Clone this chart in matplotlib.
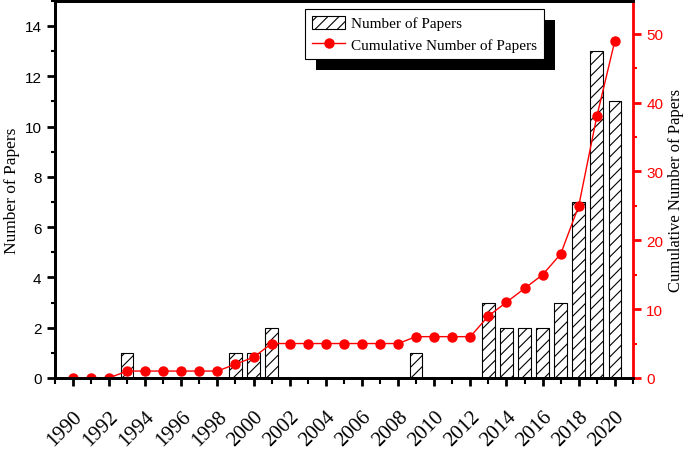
import numpy as np
import matplotlib
matplotlib.use("Agg")
import matplotlib.pyplot as plt
from matplotlib.patches import Rectangle
from matplotlib.transforms import IdentityTransform
from matplotlib.ticker import MultipleLocator

# data
years = list(range(1990, 2021))
papers = [0, 0, 0, 1, 0, 0, 0, 0, 0, 1, 1, 2, 0, 0, 0, 0, 0, 0, 0, 1,
          0, 0, 0, 3, 2, 2, 2, 3, 7, 13, 11]
cumulative = [0, 0, 0, 1, 1, 1, 1, 1, 1, 2, 3, 5, 5, 5, 5, 5, 5, 5, 5, 6,
              6, 6, 6, 9, 11, 13, 15, 18, 25, 38, 49]
xtick_labels = [str(y) for y in range(1990, 2021, 2)]

serif = "Liberation Serif"
sans = "Liberation Sans"
plt.rcParams["hatch.linewidth"] = 0.8

fig = plt.figure(figsize=(6.85, 4.56), dpi=100)
ax = fig.add_axes([0.080, 0.169, 0.844, 0.827])
ax2 = ax.twinx()

bars = ax.bar(years, papers, width=0.7, facecolor="white", edgecolor="black",
              linewidth=0.8, hatch="///", label="Number of Papers")
line, = ax2.plot(years, cumulative, color="red", lw=1, marker="o", ms=6.5,
                 label="Cumulative Number of Papers")

ax.set_xlim(1989, 2021)
ax.set_ylim(0, 15)
ax2.set_ylim(0, 54.8)

ax.set_xticks(range(1990, 2021, 2))
ax.set_xticklabels(xtick_labels, rotation=45, ha="right", rotation_mode="anchor",
                   family=serif, fontsize=15)
ax.xaxis.set_minor_locator(MultipleLocator(1))
ax.yaxis.set_major_locator(MultipleLocator(2))
ax.yaxis.set_minor_locator(MultipleLocator(1))
ax2.yaxis.set_major_locator(MultipleLocator(10))
ax2.yaxis.set_minor_locator(MultipleLocator(5))

for t in ax.get_yticklabels():
    t.set_family(sans)
    t.set_fontsize(11)
for t in ax2.get_yticklabels():
    t.set_family(sans)
    t.set_fontsize(11)

ax.tick_params(axis="x", which="major", direction="out", length=6, width=2, pad=15)
ax.tick_params(axis="x", which="minor", direction="out", length=4, width=1.5)
ax.tick_params(axis="y", which="major", direction="out", length=6, width=2)
ax.tick_params(axis="y", which="minor", direction="out", length=3, width=1.5)
ax2.tick_params(axis="y", which="major", direction="out", length=6, width=2,
                colors="red")
ax2.tick_params(axis="y", which="minor", direction="out", length=3, width=1.5,
                colors="red")

for sp in ["left", "bottom", "top"]:
    ax.spines[sp].set_linewidth(2)
for sp in ax2.spines.values():
    sp.set_linewidth(2)
ax2.spines["right"].set_color("red")

ax.set_ylabel("Number of Papers", family=serif, fontsize=12.5)
ax.yaxis.set_label_coords(-0.061, 0.5)
ax2.set_ylabel("Cumulative Number of Papers", family=serif, fontsize=12,
               rotation=90)
ax2.yaxis.set_label_coords(1.061, 0.5)

leg = ax2.legend([bars, line], ["Number of Papers", "Cumulative Number of Papers"],
                 loc="upper left", bbox_to_anchor=(0.4325, 0.979),
                 prop={"family": serif, "size": 11}, fancybox=False,
                 edgecolor="black", framealpha=1, borderaxespad=0,
                 handlelength=2.2, handleheight=0.95, handletextpad=0.4,
                 labelspacing=0.45, borderpad=0.45)
leg.get_frame().set_linewidth(0.8)
leg.set_zorder(10)

fig.canvas.draw()
bb = leg.get_window_extent()
shadow = Rectangle((bb.x0 + 11, bb.y0 - 11), bb.width, bb.height,
                   transform=IdentityTransform(), facecolor="black",
                   edgecolor="none", zorder=9)
ax2.add_artist(shadow)

fig.savefig("out.png", dpi=100)
